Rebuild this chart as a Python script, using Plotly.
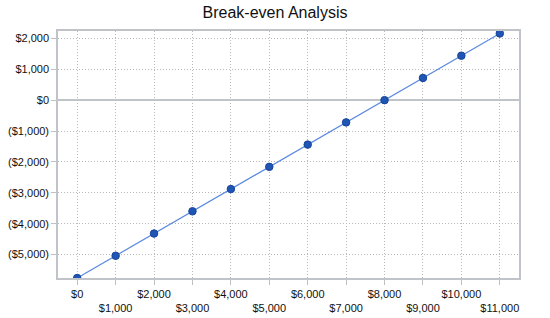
import plotly.graph_objects as go

categories = ["$0", "$1,000", "$2,000", "$3,000", "$4,000", "$5,000", "$6,000",
              "$7,000", "$8,000", "$9,000", "$10,000", "$11,000"]
values = [-5760, -5040, -4320, -3600, -2880, -2160, -1440, -720, 0, 720, 1440, 2160]
y_tickvals = [2000, 1000, 0, -1000, -2000, -3000, -4000, -5000]
y_ticktext = ["$2,000", "$1,000", "$0", "($1,000)", "($2,000)", "($3,000)", "($4,000)", "($5,000)"]

x_idx = list(range(len(categories)))
x_ticktext = [c if i % 2 == 0 else "<br>" + c for i, c in enumerate(categories)]

fig = go.Figure()
fig.add_trace(go.Scatter(
    x=x_idx, y=values, mode="lines+markers",
    line=dict(color="#5a8ae0", width=1.2),
    marker=dict(size=7.5, color="#1f55b5", line=dict(color="#16449a", width=1)),
    hoverinfo="skip",
))

fig.update_layout(
    width=550, height=318,
    margin=dict(l=58, r=31, t=31, b=40),
    paper_bgcolor="white", plot_bgcolor="white",
    showlegend=False,
    title=dict(text="Break-even Analysis", x=0.5, xanchor="center", y=0.962, yanchor="middle",
               font=dict(family="Liberation Sans, Arial", size=16, color="#111")),
    font=dict(family="Liberation Sans, Arial", size=11, color="#111"),
)
fig.update_xaxes(
    range=[-0.5, 11.5], tickmode="array", tickvals=x_idx, ticktext=x_ticktext,
    tickangle=0, automargin=False,
    showgrid=True, gridcolor="#b8b8b8", griddash="1px,2px", gridwidth=1,
    showline=True, linecolor="#c0c4c8", linewidth=1.5, mirror=True,
    ticks="outside", ticklen=5, tickcolor="#c0c0c0", zeroline=False,
    tickfont=dict(size=11),
)
fig.update_yaxes(
    range=[-5760, 2240], tickmode="array", tickvals=y_tickvals, ticktext=y_ticktext,
    automargin=False,
    showgrid=True, gridcolor="#b8b8b8", griddash="1px,2px", gridwidth=1,
    showline=True, linecolor="#c0c4c8", linewidth=1.5, mirror=True,
    ticks="outside", ticklen=5, tickcolor="#c0c0c0",
    zeroline=True, zerolinecolor="#c0c4c8", zerolinewidth=1.5,
    tickfont=dict(size=11),
)

fig.write_html("out.html")
